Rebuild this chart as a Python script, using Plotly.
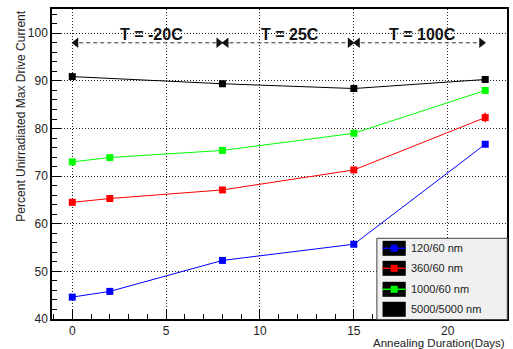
import plotly.graph_objects as go

# Annealing days and drive-current retention per transistor geometry
days = [0, 2, 8, 15, 22]
days_large = [0, 8, 15, 22]
series_names = ["120/60 nm", "360/60 nm", "1000/60 nm", "5000/5000 nm"]
vals_120 = [44.6, 45.8, 52.3, 55.7, 76.7]
vals_360 = [64.5, 65.3, 67.1, 71.3, 82.3]
err_360 = [0.0, 0.0, 0.0, 0.0, 1.0]
vals_1000 = [73.0, 73.9, 75.4, 79.0, 88.0]
vals_5000 = [90.9, 89.4, 88.4, 90.3]
colors = ["#0000ff", "#ff0000", "#00ff00", "#000000"]

# Temperature phases of the annealing schedule
phase_edges = [0, 8, 15, 22]
phase_labels = ["T = -20C", "T = 25C", "T = 100C"]
phase_label_x = [4.2, 11.6, 18.65]
arrow_y = 98.0
label_y = 99.7

W, H = 513, 349
L, R, T, B = 52, 4, 9, 30
PW, PH = W - L - R, H - T - B


def px(x):
    return (x - L) / PW


def py(y):
    return (H - B - y) / PH


fig = go.Figure()

fig.add_trace(go.Scatter(x=days_large, y=vals_5000, mode="lines+markers",
                         line=dict(color=colors[3], width=1),
                         marker=dict(symbol="square", size=7, color=colors[3])))
fig.add_trace(go.Scatter(x=days, y=vals_1000, mode="lines+markers",
                         line=dict(color=colors[2], width=1),
                         marker=dict(symbol="square", size=7, color=colors[2])))
fig.add_trace(go.Scatter(x=days, y=vals_360, mode="lines+markers",
                         line=dict(color=colors[1], width=1),
                         error_y=dict(type="data", array=err_360, color=colors[1],
                                      thickness=1.5, width=0),
                         marker=dict(symbol="square", size=7, color=colors[1])))
fig.add_trace(go.Scatter(x=days, y=vals_120, mode="lines+markers",
                         line=dict(color=colors[0], width=1),
                         marker=dict(symbol="square", size=7, color=colors[0])))

# Dashed double-headed arrows marking each temperature phase
for i in range(3):
    x0, x1 = phase_edges[i], phase_edges[i + 1]
    fig.add_trace(go.Scatter(x=[x0, x1], y=[arrow_y, arrow_y], mode="lines",
                             line=dict(color="#333", width=1, dash="4px,3px")))
    fig.add_trace(go.Scatter(x=[x0 + 0.2], y=[arrow_y], mode="markers",
                             marker=dict(symbol="triangle-left", size=9, color="#111")))
    fig.add_trace(go.Scatter(x=[x1 - 0.2], y=[arrow_y], mode="markers",
                             marker=dict(symbol="triangle-right", size=9, color="#111")))
    fig.add_annotation(x=phase_label_x[i], y=label_y, text="<b>%s</b>" % phase_labels[i],
                       showarrow=False, font=dict(size=16, color="#111"),
                       xanchor="center", yanchor="middle")

axis_common = dict(
    showline=True, linecolor="black", linewidth=1.5, mirror=True,
    ticks="inside", ticklen=9, tickwidth=1, tickcolor="black",
    showgrid=True, gridcolor="#222", gridwidth=1, griddash="1px,2px",
    zeroline=False, tickfont=dict(size=12, color="#222"),
)

fig.update_xaxes(range=[-1.08, 23.16], tick0=0, dtick=5,
                 minor=dict(dtick=1, ticks="inside", ticklen=5, tickcolor="black", showgrid=False),
                 **axis_common)
fig.update_yaxes(range=[40, 105.1], tick0=40, dtick=10,
                 minor=dict(dtick=2, ticks="inside", ticklen=5, tickcolor="black", showgrid=False),
                 **axis_common)

# Axis titles
fig.add_annotation(xref="paper", yref="paper", x=1.0, y=py(343), text="Annealing Duration(Days)",
                   showarrow=False, xanchor="right", yanchor="middle",
                   font=dict(size=11.5, color="#222"))
fig.add_annotation(xref="paper", yref="paper", x=px(20), y=1.0,
                   text="Percent Unirradiated Max Drive Current", textangle=-90,
                   showarrow=False, xanchor="center", yanchor="top",
                   font=dict(size=12, color="#222"))

# Legend box
shapes = [dict(type="rect", xref="paper", yref="paper",
               x0=px(378.3), x1=px(509.3), y0=py(319.5), y1=py(238.3),
               fillcolor="#f0f0f0", line=dict(color="#444", width=1), layer="above")]
entry_y = [248.3, 268.3, 289.3, 309.3]
for i, name in enumerate(series_names):
    cy = entry_y[i]
    shapes.append(dict(type="rect", xref="paper", yref="paper",
                       x0=px(384), x1=px(407.3), y0=py(cy + 7.5), y1=py(cy - 7.5),
                       fillcolor="black", line=dict(width=0), layer="above"))
    if i < 3:
        shapes.append(dict(type="line", xref="paper", yref="paper",
                           x0=px(384), x1=px(407.3), y0=py(cy), y1=py(cy),
                           line=dict(color=colors[i], width=1.5), layer="above"))
        shapes.append(dict(type="rect", xref="paper", yref="paper",
                           x0=px(392.2), x1=px(399.2), y0=py(cy + 3.5), y1=py(cy - 3.5),
                           fillcolor=colors[i], line=dict(width=0), layer="above"))
    fig.add_annotation(xref="paper", yref="paper", x=px(410.5), y=py(cy), text=name,
                       showarrow=False, xanchor="left", yanchor="middle",
                       font=dict(size=11, color="#222"))

fig.update_layout(
    width=W, height=H, margin=dict(l=L, r=R, t=T, b=B),
    paper_bgcolor="white", plot_bgcolor="white", showlegend=False,
    font=dict(family="Liberation Sans, Arial, sans-serif"),
    shapes=shapes,
)

fig.write_html("out.html")
